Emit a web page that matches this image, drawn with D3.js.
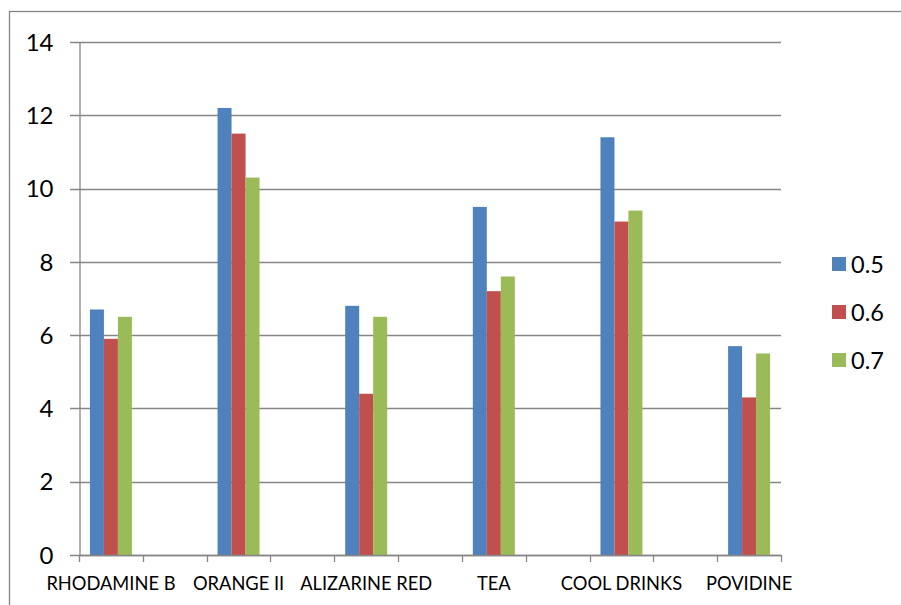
<!DOCTYPE html>
<html><head><meta charset="utf-8">
<script src="https://cdn.jsdelivr.net/npm/d3@7"></script>
<style>body{margin:0;background:#fff}svg{display:block}</style>
</head><body>
<script>
const categories = ["RHODAMINE B","","ORANGE II","","ALIZARINE RED","","TEA","","COOL DRINKS","","POVIDINE"];
const seriesNames = ["0.5","0.6","0.7"];
const s05 = [6.7,null,12.2,null,6.8,null,9.5,null,11.4,null,5.7];
const s06 = [5.9,null,11.5,null,4.4,null,7.2,null,9.1,null,4.3];
const s07 = [6.5,null,10.3,null,6.5,null,7.6,null,9.4,null,5.5];
const yTicks = [0,2,4,6,8,10,12,14];
const colors = ["#4F81BD","#C0504D","#9BBB59"];
const seriesValues = [s05,s06,s07];

const W=901,H=605;
const svg=d3.select("body").append("svg").attr("width",W).attr("height",H);
const font="Lato, 'Open Sans', sans-serif";
// outer frame
svg.append("rect").attr("x",9.5).attr("y",11.5).attr("width",W+20).attr("height",H+20)
  .attr("fill","#fff").attr("stroke","#868686").attr("stroke-width",1.3);

const L=79,R=781,T=42,B=555;
const x=d3.scaleBand().domain(d3.range(categories.length)).range([L,R]).padding(0);
const x1=d3.scaleBand().domain(d3.range(seriesNames.length)).range([0,x.bandwidth()]).paddingInner(0).paddingOuter(0.78);
const y=d3.scaleLinear().domain([0,14]).range([B,T]);

// gridlines
svg.append("g").selectAll("line").data(yTicks).join("line")
  .attr("x1",L-9).attr("x2",R).attr("y1",d=>Math.round(y(d))+0.5).attr("y2",d=>Math.round(y(d))+0.5)
  .attr("stroke","#868686").attr("stroke-width",1.3);

// bars
const g=svg.append("g");
seriesValues.forEach((vals,si)=>{
  g.selectAll(null).data(vals.map((v,i)=>({v,i})).filter(d=>d.v!=null)).join("rect")
    .attr("x",d=>x(d.i)+x1(si)).attr("width",x1.bandwidth())
    .attr("y",d=>y(d.v)).attr("height",d=>B-y(d.v))
    .attr("fill",colors[si]);
});

// y axis
const yAxis=d3.axisLeft(y).tickValues(yTicks).tickSize(0).tickPadding(26).tickFormat(d3.format("d"));
const ya=svg.append("g").attr("transform",`translate(${L+0.5},0)`).call(yAxis);
ya.select(".domain").attr("stroke","#868686").attr("stroke-width",1.3);
ya.selectAll("text").attr("font-family",font).attr("font-size",24).attr("fill","#000").attr("dy","0.34em");

// x axis
const boundaries=d3.range(categories.length+1).map(i=>L+i*x.step());
const xa=svg.append("g");
xa.append("line").attr("x1",L).attr("x2",R).attr("y1",B+0.5).attr("y2",B+0.5).attr("stroke","#868686").attr("stroke-width",1.3);
xa.selectAll(".tk").data(boundaries).join("line").attr("class","tk")
  .attr("x1",d=>Math.round(d)+0.5).attr("x2",d=>Math.round(d)+0.5).attr("y1",B).attr("y2",B+7)
  .attr("stroke","#868686").attr("stroke-width",1.3);
const xAxis=d3.axisBottom(x).tickSize(0).tickPadding(0).tickFormat(i=>categories[i]);
const xg=svg.append("g").attr("transform",`translate(0,${B})`).call(xAxis);
xg.select(".domain").remove();
xg.selectAll("text").attr("font-family",font).attr("font-size",18.3).attr("fill","#000").attr("dy",null).attr("y",35);

// legend
const lg=svg.append("g");
seriesNames.forEach((n,i)=>{
  const cy=264+i*48;
  lg.append("rect").attr("x",832).attr("y",cy-7).attr("width",14).attr("height",14).attr("fill",colors[i]);
  lg.append("text").attr("x",851).attr("y",cy+8.5).attr("font-family",font).attr("font-size",23.5).attr("fill","#000").text(n);
});
</script>
</body></html>
